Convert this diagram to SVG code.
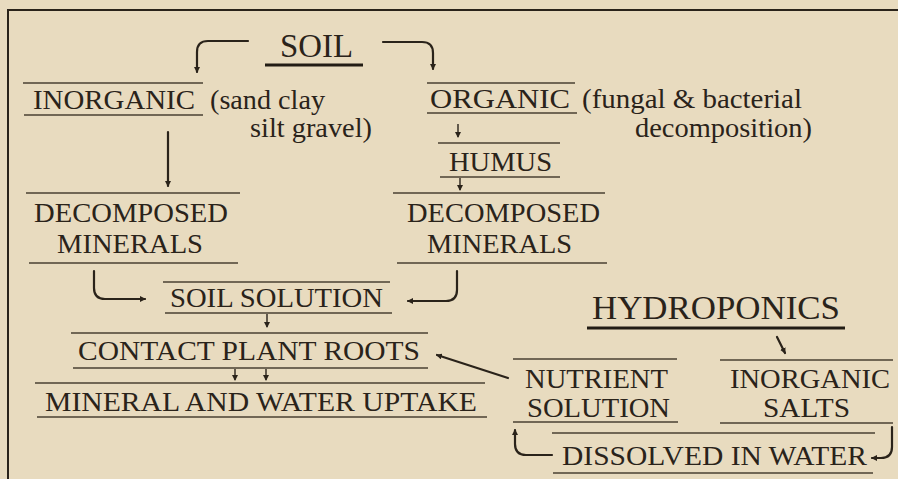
<svg xmlns="http://www.w3.org/2000/svg" width="898" height="479" viewBox="0 0 898 479">
<style>
text{font-family:Liberation Serif,Times New Roman,Times,DejaVu Serif,Noto Serif,Georgia,serif;fill:#2a231a;font-size:27px}
.big{font-size:33px}
.rule{stroke:#4a4032;stroke-width:1.4;fill:none}
.thick{stroke:#221c14;stroke-width:3.2;fill:none}
.frame{stroke:#2a231a;stroke-width:2;fill:none}
.conn{stroke:#2a231a;stroke-width:2.2;fill:none;stroke-linecap:round;marker-end:url(#ah)}
.sm{stroke:#2a231a;stroke-width:1.4;fill:none;marker-end:url(#ah)}
</style>
<defs>
<marker id="ah" markerUnits="userSpaceOnUse" markerWidth="6" markerHeight="6" refX="5" refY="3" orient="auto">
<path d="M0,0 L6,3 L0,6 z" fill="#2a231a"/>
</marker>
</defs>
<rect width="898" height="479" fill="#e8dbbf"/>
<path class="frame" d="M8,479 V10 H898"/>

<g id="soil">
<text class="big" x="280" y="57" textLength="73" lengthAdjust="spacingAndGlyphs">SOIL</text>
<line class="thick" x1="265" y1="65" x2="363" y2="65"/>
</g>
<g id="inorganic">
<line class="rule" x1="23" y1="83" x2="203" y2="83"/>
<text x="33" y="109" textLength="162" lengthAdjust="spacingAndGlyphs">INORGANIC</text>
<line class="rule" x1="24" y1="115" x2="203" y2="115"/>
<text x="210" y="109" textLength="115" lengthAdjust="spacingAndGlyphs">(sand clay</text>
<text x="250" y="137" textLength="122" lengthAdjust="spacingAndGlyphs">silt gravel)</text>
</g>
<g id="organic">
<line class="rule" x1="427" y1="83" x2="575" y2="83"/>
<text x="430" y="108" textLength="140" lengthAdjust="spacingAndGlyphs">ORGANIC</text>
<line class="rule" x1="427" y1="113" x2="577" y2="113"/>
<text x="582" y="108" textLength="220" lengthAdjust="spacingAndGlyphs">(fungal &amp; bacterial</text>
<text x="635" y="137" textLength="177" lengthAdjust="spacingAndGlyphs">decomposition)</text>
</g>
<g id="humus">
<line class="rule" x1="438" y1="143" x2="560" y2="143"/>
<text x="449" y="171" textLength="103" lengthAdjust="spacingAndGlyphs">HUMUS</text>
<line class="rule" x1="440" y1="177" x2="560" y2="177"/>
</g>
<g id="decomposed-left">
<line class="rule" x1="26" y1="193" x2="240" y2="193"/>
<text x="34" y="222" textLength="194" lengthAdjust="spacingAndGlyphs">DECOMPOSED</text>
<text x="57" y="253" textLength="146" lengthAdjust="spacingAndGlyphs">MINERALS</text>
<line class="rule" x1="29" y1="263" x2="238" y2="263"/>
</g>
<g id="decomposed-right">
<line class="rule" x1="393" y1="193" x2="605" y2="193"/>
<text x="407" y="222" textLength="193" lengthAdjust="spacingAndGlyphs">DECOMPOSED</text>
<text x="427" y="253" textLength="145" lengthAdjust="spacingAndGlyphs">MINERALS</text>
<line class="rule" x1="397" y1="263" x2="607" y2="263"/>
</g>
<g id="soil-solution">
<line class="rule" x1="163" y1="282" x2="390" y2="282"/>
<text x="170" y="307" textLength="213" lengthAdjust="spacingAndGlyphs">SOIL SOLUTION</text>
<line class="rule" x1="165" y1="313" x2="392" y2="313"/>
</g>
<g id="contact">
<line class="rule" x1="71" y1="333" x2="428" y2="333"/>
<text x="78" y="360" textLength="342" lengthAdjust="spacingAndGlyphs">CONTACT PLANT ROOTS</text>
<line class="rule" x1="73" y1="368" x2="428" y2="368"/>
</g>
<g id="uptake">
<line class="rule" x1="35" y1="383" x2="485" y2="383"/>
<text x="45" y="411" textLength="432" lengthAdjust="spacingAndGlyphs">MINERAL AND WATER UPTAKE</text>
<line class="rule" x1="37" y1="417" x2="487" y2="417"/>
</g>
<g id="hydroponics">
<text class="big" x="592" y="319" textLength="248" lengthAdjust="spacingAndGlyphs">HYDROPONICS</text>
<line class="thick" x1="587" y1="328" x2="845" y2="328"/>
</g>
<g id="nutrient-solution">
<line class="rule" x1="513" y1="359" x2="677" y2="359"/>
<text x="525" y="388" textLength="143" lengthAdjust="spacingAndGlyphs">NUTRIENT</text>
<text x="527" y="417" textLength="143" lengthAdjust="spacingAndGlyphs">SOLUTION</text>
<line class="rule" x1="513" y1="422" x2="678" y2="422"/>
</g>
<g id="inorganic-salts">
<line class="rule" x1="720" y1="360" x2="893" y2="360"/>
<text x="730" y="388" textLength="160" lengthAdjust="spacingAndGlyphs">INORGANIC</text>
<text x="763" y="417" textLength="87" lengthAdjust="spacingAndGlyphs">SALTS</text>
<line class="rule" x1="720" y1="423" x2="893" y2="423"/>
</g>
<g id="dissolved">
<line class="rule" x1="552" y1="433" x2="875" y2="433"/>
<text x="562" y="465" textLength="305" lengthAdjust="spacingAndGlyphs">DISSOLVED IN WATER</text>
<line class="rule" x1="553" y1="473" x2="873" y2="473"/>
</g>

<g id="connectors">
<path class="conn" d="M248,41 H208 Q197,41 197,52 V72"/>
<path class="conn" d="M383,42 H422 Q433,42 433,53 V69"/>
<path class="sm" d="M458,124 V137"/>
<path class="sm" d="M460,178 V190"/>
<path class="conn" d="M168,132 V186"/>
<path class="conn" d="M94,271 V288 Q94,299 105,299 H145"/>
<path class="conn" d="M457,271 V290 Q457,301 446,301 H408"/>
<path class="sm" d="M267,314 V327"/>
<path class="sm" d="M235,369 V380"/>
<path class="sm" d="M266,369 V380"/>
<path class="conn" d="M508,378 L437,355"/>
<path class="conn" d="M777,337 L785,353"/>
<path class="conn" d="M552,455 H526 Q515,455 515,444 V430"/>
<path class="conn" d="M892,427 V447 Q892,458 881,458 H872"/>
</g>
</svg>
